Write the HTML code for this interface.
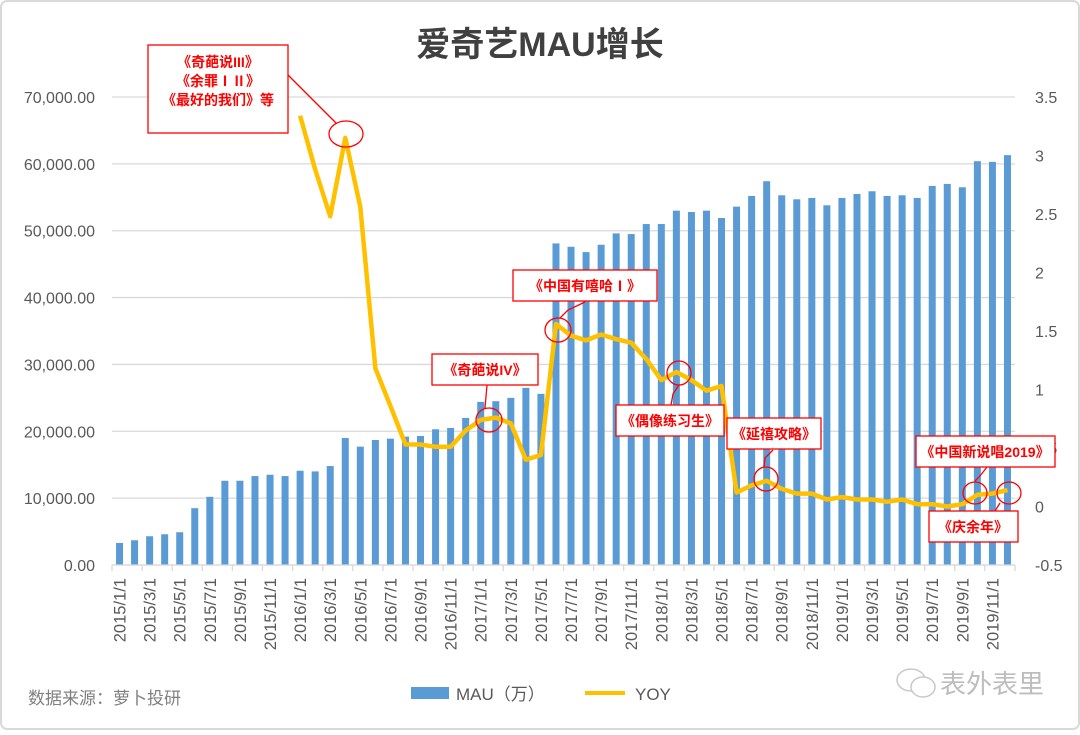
<!DOCTYPE html>
<html><head><meta charset="utf-8"><style>
body{margin:0;background:#fff;}
svg text{font-family:"Liberation Sans","Noto Sans CJK SC",sans-serif;}
</style></head><body>
<svg id="chart" width="1080" height="730" viewBox="0 0 1080 730" xmlns="http://www.w3.org/2000/svg">
<rect x="1" y="1" width="1078" height="728" rx="6" fill="#fff" stroke="#d9d9d9" stroke-width="2"/>
<text x="540" y="56" text-anchor="middle" font-size="34" font-weight="bold" fill="#404040">爱奇艺MAU增长</text>
<g id="grid"></g><g id="bars"></g><g id="axes"></g><g id="line"></g>
<g id="notes" fill="none" stroke="#ff0000" stroke-width="1.3">
<rect x="148" y="45" width="140" height="88" fill="#fff"/>
<line x1="288" y1="75" x2="336" y2="123"/>
<ellipse cx="346" cy="134" rx="17" ry="13"/>
<rect x="432" y="354" width="106" height="31" fill="#fff"/>
<line x1="487" y1="385" x2="485" y2="408"/>
<ellipse cx="489" cy="420" rx="13" ry="12"/>
<rect x="513" y="270" width="144" height="31" fill="#fff"/>
<path d="M585 302 L568 310 L560 318"/>
<ellipse cx="558" cy="330" rx="13" ry="12"/>
<rect x="616" y="405" width="108" height="31" fill="#fff"/>
<path d="M671 405 L673 394 L679 385"/>
<ellipse cx="679" cy="373" rx="12" ry="12"/>
<rect x="727" y="418" width="94" height="31" fill="#fff"/>
<path d="M773 450 L765 458 L764 467"/>
<ellipse cx="766" cy="479" rx="12" ry="12"/>
<rect x="916" y="436" width="139" height="31" fill="#fff"/>
<path d="M987 467 L980 476 L975 481"/>
<ellipse cx="975" cy="493" rx="12" ry="11"/>
<rect x="929" y="511" width="89" height="31" fill="#fff"/>
<path d="M995 511 L1000 503"/>
<ellipse cx="1009" cy="493" rx="12" ry="11"/>
</g>
<g fill="#ff0000" font-size="14" font-weight="bold" text-anchor="middle">
<text x="218" y="67">《奇葩说III》</text>
<text x="218" y="86">《余罪ⅠⅡ》</text>
<text x="218" y="105">《最好的我们》等</text>
<text x="485" y="375">《奇葩说IV》</text>
<text x="585" y="291">《中国有嘻哈Ⅰ》</text>
<text x="670" y="426">《偶像练习生》</text>
<text x="774" y="439">《延禧攻略》</text>
<text x="985" y="457">《中国新说唱2019》</text>
<text x="973" y="532">《庆余年》</text>
</g>
<g>
<rect x="411" y="687" width="38" height="12" fill="#5b9bd5"/>
<text x="456" y="700" font-size="17" fill="#595959">MAU（万）</text>
<line x1="585" y1="693" x2="625" y2="693" stroke="#ffc000" stroke-width="4"/>
<text x="635" y="700" font-size="17" fill="#595959">YOY</text>
</g>
<text x="28" y="704" font-size="17" fill="#808080">数据来源：萝卜投研</text>
<g fill="none" stroke="#c8c8c8" stroke-width="1.5">
<ellipse cx="911" cy="680" rx="14" ry="11"/><ellipse cx="923" cy="687" rx="12" ry="10" fill="#fff"/>
</g>
<text x="940" y="693" font-size="26" fill="#bdbdbd">表外表里</text>
</svg>
<script>
const categories=[];for(let y=2015;y<=2019;y++)for(let m=1;m<=12;m++)categories.push(y+'/'+m+'/1');
const mauValues=[3300,3700,4300,4600,4900,8500,10200,12600,12600,13300,13500,13300,14100,14000,14800,19000,17700,18700,18900,19200,19300,20300,20500,22000,24400,24500,25000,26500,25600,48100,47600,46800,47900,49600,49500,51000,51000,53000,52800,53000,51900,53600,55200,57400,55300,54700,54900,53800,54900,55500,55900,55200,55300,54900,56700,57000,56500,60400,60300,61300];
const yoyValues=[null,null,null,null,null,null,null,null,null,null,null,null,3.34,2.88,2.48,3.15,2.56,1.18,0.86,0.53,0.53,0.51,0.51,0.65,0.74,0.76,0.71,0.40,0.44,1.56,1.46,1.42,1.47,1.43,1.40,1.26,1.08,1.15,1.08,0.99,1.03,0.12,0.18,0.22,0.15,0.11,0.11,0.06,0.08,0.06,0.06,0.04,0.06,0.02,0.02,0.0,0.02,0.10,0.11,0.14];
const leftTicks=[0,10000,20000,30000,40000,50000,60000,70000];
const rightTicks=[-0.5,0,0.5,1,1.5,2,2.5,3,3.5];
const NS='http://www.w3.org/2000/svg';
const X0=112,X1=1015,YT=97,YB=565;
const bw=(X1-X0)/categories.length;
const xc=i=>X0+(i+0.5)*bw;
const yL=v=>YB-(v/70000)*(YB-YT);
const yR=v=>YB-((v+0.5)/4)*(YB-YT);
function mk(tag,attrs,parent,txt){const e=document.createElementNS(NS,tag);for(const k in attrs)e.setAttribute(k,attrs[k]);if(txt!==undefined)e.textContent=txt;document.getElementById(parent).appendChild(e);return e;}
leftTicks.forEach(v=>{
  const g=mk('line',{x1:X0,x2:X1,y1:yL(v),y2:yL(v),stroke:'#d9d9d9','stroke-width':1.3},'grid');
  
  
  const t=mk('text',{x:95,y:yL(v)+6,'text-anchor':'end','font-size':16,fill:'#595959'},'axes',v.toLocaleString('en-US',{minimumFractionDigits:2}));
  
  
});
rightTicks.forEach(v=>{
  const t=mk('text',{x:1035,y:yR(v)+6,'font-size':16,fill:'#595959'},'axes',String(v));
  
  
});
mauValues.forEach((v,i)=>{
  const r=mk('rect',{x:xc(i)-3.5,y:yL(v),width:7,height:YB-yL(v),fill:'#5b9bd5'},'bars');
  
  
});
const ax=mk('line',{x1:X0,x2:X1,y1:YB,y2:YB,stroke:'#d9d9d9','stroke-width':1.3},'axes');


categories.forEach((c,i)=>{
  if(i%2)return;
  const tk=mk('line',{x1:X0+i*bw,x2:X0+i*bw,y1:YB,y2:YB+6,stroke:'#d9d9d9','stroke-width':1.3},'axes');
  
  
  const x=xc(i)+6;
  const t=mk('text',{x:x,y:578,'text-anchor':'end','font-size':16.5,fill:'#595959',transform:`rotate(-90 ${x} 578)`},'axes',c);
  
  
});
const tk2=mk('line',{x1:X1,x2:X1,y1:YB,y2:YB+6,stroke:'#d9d9d9','stroke-width':1.3},'axes');


let d='';yoyValues.forEach((v,i)=>{if(v===null)return;d+=(d?'L':'M')+xc(i).toFixed(1)+' '+yR(v).toFixed(1)+' ';});
const p=mk('path',{d:d,fill:'none',stroke:'#ffc000','stroke-width':4.5,'stroke-linejoin':'round'},'line');


</script>
</body></html>
